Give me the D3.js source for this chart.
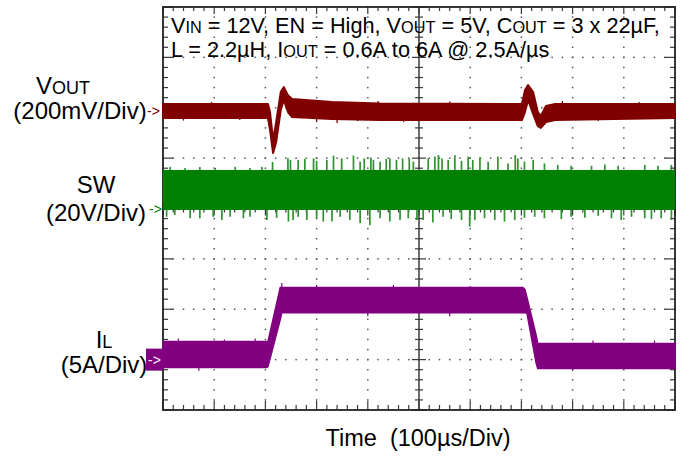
<!DOCTYPE html>
<html lang="en">
<head>
    <meta charset="UTF-8">
    <title>Load Transient</title>
    <script src="https://d3js.org/d3.v7.min.js"></script>
    <style>
        body {
            margin: 0;
            background-color: #ffffff;
        }
        svg {
            display: block;
            font-family: Arial, "Liberation Sans", sans-serif;
        }
    </style>
</head>
<body>
    <svg id="scope"></svg>

    <script>
        // time axis: 10 div x 100us
        const timeDomain = [0, 1000];

        // VOUT envelope (mV relative to marker)
        const vTime = [0, 205, 209, 215, 221, 230, 236, 244, 252, 330, 424, 701, 707, 713, 723, 732, 738, 748, 766, 1000];
        const vHi   = [28, 28, -4, -115, -44, 75, 95, 63, 48, 36, 30, 28, 83, 103, 75, -4, -20, 20, 28, 28];
        const vLo   = [-28, -28, -75, -167, -123, 4, 44, -4, -24, -32, -36, -36, -4, 44, -12, -60, -67, -44, -36, -28];
        const vSpikeT  = [40, 95, 150, 300, 340, 380, 420, 470, 560, 620, 780, 850, 930];
        const vSpikeMv = [-38, 36, -36, -44, -48, -40, 40, -44, 38, -40, 40, -40, 36];

        // SW (V): solid band plus spikes
        const swBand = [-0.6, 15.3];
        const swUpT = [14, 43, 72, 102, 141, 170, 193, 214, 244, 249, 264, 277, 294, 300, 320, 333, 349, 372, 385, 393, 406, 411, 424, 436, 443, 456, 468, 481, 489,
                       518, 531, 538, 545, 557, 570, 583, 596, 605, 619, 635, 654, 674, 688, 693, 706, 723, 745, 771, 797, 837, 863, 889, 941, 967, 993];
        const swUpV = [16.5, 16.1, 16.5, 16.1, 16.5, 16.1, 16.5, 18.5, 20.0, 19.3, 19.3, 19.7, 19.9, 18.9, 19.3, 21.0, 19.9, 21.0, 18.6, 19.9, 20.2, 19.3, 18.6, 19.7, 19.9, 19.3, 19.9, 19.7, 18.6,
                       19.9, 20.6, 21.2, 19.9, 19.3, 21.2, 18.9, 20.6, 19.3, 20.2, 18.6, 20.6, 17.9, 21.2, 19.9, 18.6, 19.3, 17.9, 17.3, 17.0, 17.0, 17.5, 17.0, 17.3, 17.0, 17.3];
        const swLoT = [7, 23, 53, 72, 98, 115, 131, 157, 170, 203, 222, 245, 254, 264, 281, 300, 313, 330, 346, 365, 385, 404, 424, 443, 463, 479, 496,
                       508, 527, 547, 563, 583, 599, 609, 628, 648, 667, 687, 706, 726, 745, 778, 797, 824, 850, 876, 895, 915, 941, 954, 973, 993];
        const swLoV = [-3.3, -2.6, -3.9, -3.9, -3.3, -4.6, -3.3, -3.9, -3.3, -4.6, -3.7, -5.2, -4.6, -3.3, -4.6, -3.9, -5.2, -5.2, -3.3, -4.6, -5.9, -6.6, -3.9, -5.2, -4.6, -3.9, -4.6,
                       -4.6, -5.5, -3.3, -4.2, -4.6, -7.2, -4.6, -3.9, -4.6, -5.2, -4.6, -3.7, -3.3, -3.9, -4.2, -3.3, -3.7, -2.9, -3.9, -4.6, -3.3, -3.9, -4.2, -3.9, -4.6];

        // IL envelope (A)
        const iTime = [0, 203, 205, 229, 232, 703, 707, 711, 729, 732, 1000];
        const iHi   = [1.79, 1.79, 1.79, 7.15, 7.15, 7.15, 6.95, 6.15, 2.38, 1.59, 1.59];
        const iLo   = [-0.79, -0.79, -0.69, 3.97, 4.66, 4.66, 4.66, 4.57, -0.40, -0.89, -0.89];
        const iSpikeT = [30, 120, 180, 232, 300, 450, 600, 70, 400, 560, 800, 840, 960];
        const iSpikeA = [2.1, 2.0, 2.1, 7.6, 7.4, 7.4, 7.3, -1.1, 4.3, 4.3, -1.1, 1.9, 1.9];

        const W = 684, H = 457;
        const frame = { left: 163, right: 675, top: 7, bottom: 410 };

        const svg = d3.select("#scope")
            .attr("width", W)
            .attr("height", H);

        const gx = d3.scaleLinear().domain([0, 10]).range([frame.left, frame.right]);
        const gy = d3.scaleLinear().domain([-4, 4]).range([frame.bottom, frame.top]);
        const x = d3.scaleLinear().domain(timeDomain).range([frame.left, frame.right]);

        // channel offsets in divisions, scale per division
        const yV = mv => gy(1.935 + mv / 200);
        const ySW = v => gy(v / 20);
        const yIL = a => gy(-3 + a / 5);

        const grid = svg.append("g");
        const gridColor = "#3a3a3a";

        // dotted major lines
        const minorX = d3.range(0, 50.5).map(i => i / 5);
        const minorY = d3.range(-20, 20.5).map(i => i / 5);
        [-3, -2, -1, 1, 2, 3].forEach(d => {
            grid.selectAll(null)
                .data(minorX)
                .enter().append("rect")
                .attr("x", m => gx(m) - 0.75)
                .attr("y", gy(d) - 0.75)
                .attr("width", 1.5)
                .attr("height", 1.5)
                .attr("fill", "#555");
        });
        [1, 2, 3, 4, 6, 7, 8, 9].forEach(d => {
            grid.selectAll(null)
                .data(minorY)
                .enter().append("rect")
                .attr("x", gx(d) - 0.75)
                .attr("y", m => gy(m) - 0.75)
                .attr("width", 1.5)
                .attr("height", 1.5)
                .attr("fill", "#555");
        });

        const isMajor = m => Math.abs(m - Math.round(m)) < 1e-6;

        // ticks on border and centre cross
        const tickLines = [];
        minorY.forEach(m => {
            const len = isMajor(m) ? 10 : 5;
            tickLines.push([frame.left, gy(m), frame.left + len, gy(m)]);
            tickLines.push([frame.right, gy(m), frame.right - len, gy(m)]);
            const c = isMajor(m) ? 7 : 4;
            tickLines.push([gx(5) - c, gy(m), gx(5) + c, gy(m)]);
        });
        minorX.forEach(m => {
            const len = isMajor(m) ? 9 : 5;
            tickLines.push([gx(m), frame.bottom, gx(m), frame.bottom - len]);
            tickLines.push([gx(m), frame.top, gx(m), frame.top + (isMajor(m) ? 7 : 4)]);
            const c = isMajor(m) ? 7 : 4;
            tickLines.push([gx(m), gy(0) - c, gx(m), gy(0) + c]);
        });
        grid.selectAll(".tick")
            .data(tickLines)
            .enter().append("line")
            .attr("x1", d => d[0]).attr("y1", d => d[1])
            .attr("x2", d => d[2]).attr("y2", d => d[3])
            .attr("stroke", gridColor)
            .attr("stroke-width", 1.2);

        grid.append("line")
            .attr("x1", gx(5)).attr("x2", gx(5))
            .attr("y1", frame.top).attr("y2", frame.bottom)
            .attr("stroke", gridColor).attr("stroke-width", 1.5);
        grid.append("line")
            .attr("x1", frame.left).attr("x2", frame.right)
            .attr("y1", gy(0)).attr("y2", gy(0))
            .attr("stroke", gridColor).attr("stroke-width", 1.5);

        grid.append("rect")
            .attr("x", frame.left).attr("y", frame.top)
            .attr("width", frame.right - frame.left)
            .attr("height", frame.bottom - frame.top)
            .attr("fill", "none")
            .attr("stroke", "#222")
            .attr("stroke-width", 1.8);

        // SW trace
        const swColor = "#008000";
        svg.append("rect")
            .attr("x", x(0))
            .attr("y", ySW(swBand[1]))
            .attr("width", x(1000) - x(0))
            .attr("height", ySW(swBand[0]) - ySW(swBand[1]))
            .attr("fill", swColor);
        svg.selectAll(".swUp")
            .data(swUpT)
            .enter().append("line")
            .attr("x1", t => x(t)).attr("x2", t => x(t))
            .attr("y1", ySW(swBand[1]))
            .attr("y2", (t, i) => ySW(swUpV[i]))
            .attr("stroke", "#2f922f")
            .attr("stroke-width", 1.7);
        svg.selectAll(".swLo")
            .data(swLoT)
            .enter().append("line")
            .attr("x1", t => x(t)).attr("x2", t => x(t))
            .attr("y1", ySW(swBand[0]))
            .attr("y2", (t, i) => ySW(swLoV[i]))
            .attr("stroke", "#2f922f")
            .attr("stroke-width", 1.7);

        // IL trace
        const ilColor = "#800080";
        const ilData = iTime.map((t, i) => ({ t, hi: iHi[i], lo: iLo[i] }));
        svg.append("path")
            .datum(ilData)
            .attr("fill", ilColor)
            .attr("stroke", ilColor)
            .attr("stroke-width", 1.5)
            .attr("d", d3.area().x(d => x(d.t)).y0(d => yIL(d.lo)).y1(d => yIL(d.hi)));
        svg.selectAll(".ilSpike")
            .data(iSpikeT)
            .enter().append("line")
            .attr("x1", t => x(t)).attr("x2", t => x(t))
            .attr("y1", (t, i) => {
                const k = Math.min(d3.bisectRight(iTime, t), iTime.length - 1);
                const a = iSpikeA[i];
                return (a > 3 && a < 5) || a < 0 ? yIL(iLo[k]) : yIL(iHi[k]);
            })
            .attr("y2", (t, i) => yIL(iSpikeA[i]))
            .attr("stroke", ilColor)
            .attr("stroke-width", 1.2);

        // VOUT trace
        const vColor = "#800000";
        const vData = vTime.map((t, i) => ({ t, hi: vHi[i], lo: vLo[i] }));
        svg.append("path")
            .datum(vData)
            .attr("fill", vColor)
            .attr("stroke", vColor)
            .attr("stroke-width", 2)
            .attr("stroke-linejoin", "round")
            .attr("d", d3.area().x(d => x(d.t)).y0(d => yV(d.lo)).y1(d => yV(d.hi)));
        svg.selectAll(".vSpike")
            .data(vSpikeT)
            .enter().append("line")
            .attr("x1", t => x(t)).attr("x2", t => x(t))
            .attr("y1", yV(0))
            .attr("y2", (t, i) => yV(vSpikeMv[i]))
            .attr("stroke", vColor)
            .attr("stroke-width", 1.3);

        // text helper: segments of [text, isSub]
        function richText(g, xPos, yPos, size, segs, anchor) {
            const t = g.append("text")
                .attr("x", xPos).attr("y", yPos)
                .attr("font-size", size)
                .attr("text-anchor", anchor || "start")
                .attr("fill", "#000");
            segs.forEach(s => {
                t.append("tspan")
                    .attr("font-size", s[1] ? size * 0.75 : size)
                    .text(s[0]);
            });
            return t;
        }

        const labels = svg.append("g");
        richText(labels, 171, 33, 21.7, [["V", 0], ["IN", 1], [" = 12V, EN = High, V", 0], ["OUT", 1], [" = 5V, C", 0], ["OUT", 1], [" = 3 x 22\u00b5F,", 0]]);
        richText(labels, 171, 57, 21.7, [["L = 2.2\u00b5H, I", 0], ["OUT", 1], [" = 0.6A to 6A @ 2.5A/\u00b5s", 0]]);

        richText(labels, 63, 94, 24, [["V", 0], ["OUT", 1]], "middle");
        richText(labels, 80, 119, 24, [["(200mV/Div)", 0]], "middle");
        richText(labels, 96, 193, 24, [["SW", 0]], "middle");
        richText(labels, 96, 221, 24, [["(20V/Div)", 0]], "middle");
        richText(labels, 104, 348, 24, [["I", 0], ["L", 1]], "middle");
        richText(labels, 104, 373, 24, [["(5A/Div)", 0]], "middle");
        richText(labels, 418, 446, 23.5, [["Time  (100\u00b5s/Div)", 0]], "middle")
            .attr("xml:space", "preserve")
            .style("white-space", "pre");

        // channel markers
        labels.append("text")
            .attr("x", 147).attr("y", yV(0) + 5)
            .attr("font-size", 14).attr("fill", vColor)
            .text("->");
        labels.append("text")
            .attr("x", 149).attr("y", ySW(0) + 5)
            .attr("font-size", 14).attr("fill", swColor)
            .text("->");
        labels.append("rect")
            .attr("x", 146).attr("y", yIL(0) - 11)
            .attr("width", frame.left - 146).attr("height", 22)
            .attr("fill", ilColor);
        labels.append("text")
            .attr("x", 148).attr("y", yIL(0) + 5)
            .attr("font-size", 14).attr("fill", "#fff")
            .text("->");
    </script>
</body>
</html>
